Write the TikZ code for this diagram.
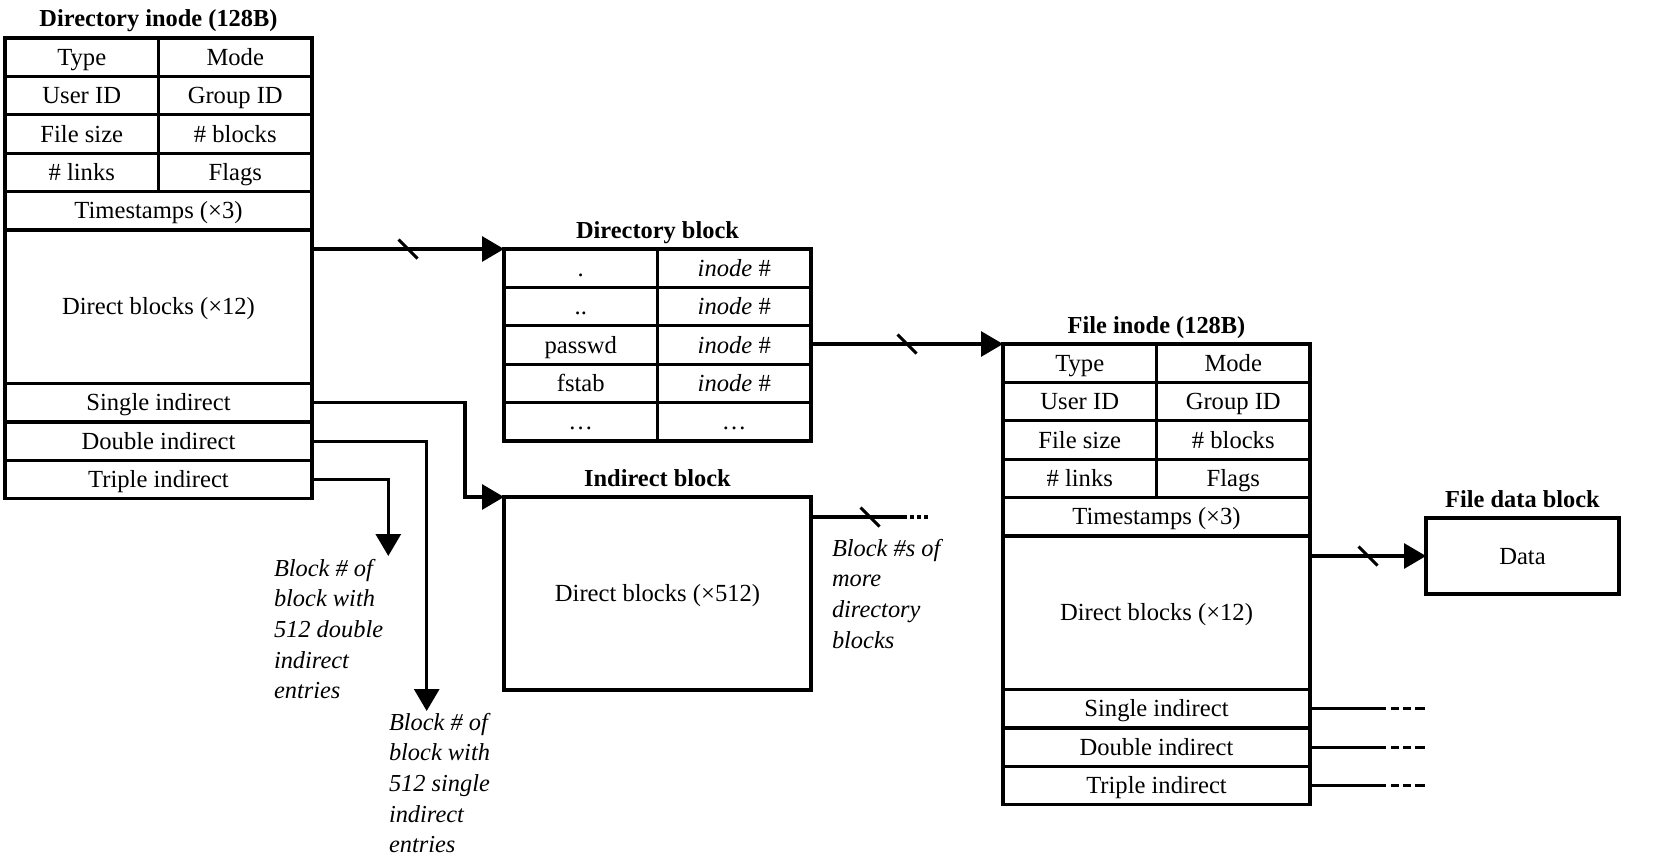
\documentclass[tikz,border=0pt]{standalone}
\usepackage{fontspec}
\setmainfont{Liberation Serif}
\usetikzlibrary{arrows.meta,calc}
\begin{document}
\begin{tikzpicture}[x=1pt,y=-1pt,
  every node/.style={inner sep=0pt, outer sep=0pt},
  cell/.style={draw, line width=3.2pt, font=\fontsize{24.6}{29}\selectfont,
    minimum height=38.4pt, text height=16.3pt, text depth=0pt},
  half/.style={cell, minimum width=153.5pt},
  full/.style={cell, minimum width=307pt},
  boxtitle/.style={font=\fontsize{24.4}{29}\selectfont\bfseries, anchor=base},
  note/.style={font=\fontsize{24.4}{30.7}\selectfont\itshape, align=left, anchor=north west},
  conn/.style={line width=3.1pt},
  arr/.style={conn, -{Triangle[length=22pt,width=25pt]}},
  slashline/.style={line width=3pt},
]
\fill[white] (0,0) rectangle (1657,867);
\useasboundingbox (0,0) rectangle (1657,867);

% ---------- Directory inode ----------
\node[boxtitle] (t-di) at (158.5,27) {Directory inode (128B)};
\node[half] (di-type)   at (81.75,57.2)  {Type};
\node[half] (di-mode)   at (235.25,57.2) {Mode};
\node[half] (di-uid)    at (81.75,95.6)  {User ID};
\node[half] (di-gid)    at (235.25,95.6) {Group ID};
\node[half] (di-size)   at (81.75,134)   {File size};
\node[half] (di-blocks) at (235.25,134)  {\# blocks};
\node[half] (di-links)  at (81.75,172.4) {\# links};
\node[half] (di-flags)  at (235.25,172.4){Flags};
\node[full] (di-ts)     at (158.5,210.8) {Timestamps (×3)};
\node[full, minimum height=153.6pt] (di-direct) at (158.5,306.8) {Direct blocks (×12)};
\node[full] (di-single) at (158.5,402.8) {Single indirect};
\node[full] (di-double) at (158.5,441.2) {Double indirect};
\node[full] (di-triple) at (158.5,479.6) {Triple indirect};

% ---------- Directory block ----------
\node[boxtitle] (t-db) at (657.5,238) {Directory block};
\node[half] (db-dot)    at (580.75,268.2) {.};
\node[half] (db-dotino) at (734.25,268.2) {\textit{inode} \#};
\node[half] (db-dd)     at (580.75,306.6) {..};
\node[half] (db-ddino)  at (734.25,306.6) {\textit{inode} \#};
\node[half] (db-pw)     at (580.75,345)   {passwd};
\node[half] (db-pwino)  at (734.25,345)   {\textit{inode} \#};
\node[half] (db-fs)     at (580.75,383.4) {fstab};
\node[half] (db-fsino)  at (734.25,383.4) {\textit{inode} \#};
\node[half] (db-el)     at (580.75,421.8) {…};
\node[half] (db-elino)  at (734.25,421.8) {…};

% ---------- Indirect block ----------
\node[boxtitle] (t-ib) at (657.5,486) {Indirect block};
\node[full, minimum height=193pt] (ib) at (657.5,593.5) {Direct blocks (×512)};

% ---------- File inode ----------
\node[boxtitle] (t-fi) at (1156.5,333) {File inode (128B)};
\node[half] (fi-type)   at (1079.75,363.2) {Type};
\node[half] (fi-mode)   at (1233.25,363.2) {Mode};
\node[half] (fi-uid)    at (1079.75,401.6) {User ID};
\node[half] (fi-gid)    at (1233.25,401.6) {Group ID};
\node[half] (fi-size)   at (1079.75,440)   {File size};
\node[half] (fi-blocks) at (1233.25,440)   {\# blocks};
\node[half] (fi-links)  at (1079.75,478.4) {\# links};
\node[half] (fi-flags)  at (1233.25,478.4) {Flags};
\node[full] (fi-ts)     at (1156.5,516.8)  {Timestamps (×3)};
\node[full, minimum height=153.6pt] (fi-direct) at (1156.5,612.8) {Direct blocks (×12)};
\node[full] (fi-single) at (1156.5,708.8) {Single indirect};
\node[full] (fi-double) at (1156.5,747.2) {Double indirect};
\node[full] (fi-triple) at (1156.5,785.6) {Triple indirect};

% ---------- File data block ----------
\node[boxtitle] (t-data) at (1522.5,507) {File data block};
\node[cell, minimum width=193pt, minimum height=76pt] (data) at (1522.5,556) {Data};

% ---------- Notes ----------
\node[note] (n3) at (274,559) {Block \# of\\block with\\512 double\\indirect\\entries};
\node[note] (n2) at (389,713) {Block \# of\\block with\\512 single\\indirect\\entries};
\node[note] (n1) at (832,539) {Block \#s of\\more\\directory\\blocks};

% ---------- Connectors ----------
\draw[arr] (di-direct.east |- db-dot.north west) -- coordinate[pos=0.5] (s1) (db-dot.north west);
\draw[slashline] ($(s1)+(-9.5,-9.5)$) -- ($(s1)+(9.5,9.5)$);

\draw[arr] (db-pwino.east |- fi-type.north west) -- coordinate[pos=0.5] (s2) (fi-type.north west);
\draw[slashline] ($(s2)+(-9.5,-9.5)$) -- ($(s2)+(9.5,9.5)$);

\draw[arr] (fi-direct.east |- data.west) -- coordinate[pos=0.5] (s3) (data.west);
\draw[slashline] ($(s3)+(-9.5,-9.5)$) -- ($(s3)+(9.5,9.5)$);

\coordinate (ib-out) at ($(ib.north east)+(0,20)$);
\coordinate (ib-end) at ($(ib-out)+(117,0)$);
\coordinate (s4) at ($(ib-out)+(59,0)$);
\draw[conn, dash pattern=on 96pt off 3pt on 4pt off 3pt on 4pt off 3pt on 4pt] (ib-out) -- (ib-end);
\draw[slashline] ($(s4)+(-9.5,-9.5)$) -- ($(s4)+(9.5,9.5)$);

\draw[arr] (di-single.east) -| ($(ib.north west)+(-39,0)$) -- (ib.north west);
\coordinate (tip2) at (426.7,711);
\draw[arr] (di-double.east) -| (tip2);
\coordinate (tip3) at (388.3,556);
\draw[arr] (di-triple.east) -| (tip3);

\foreach \r/\n in {fi-single/fs, fi-double/fd, fi-triple/ft}{
  \coordinate (\n-end) at ($(\r.east)+(115,0)$);
  \draw[conn, dash pattern=on 76pt off 5pt on 8pt off 4pt on 8pt off 4pt on 10pt] (\r.east) -- (\n-end);
}
\end{tikzpicture}
\end{document}
